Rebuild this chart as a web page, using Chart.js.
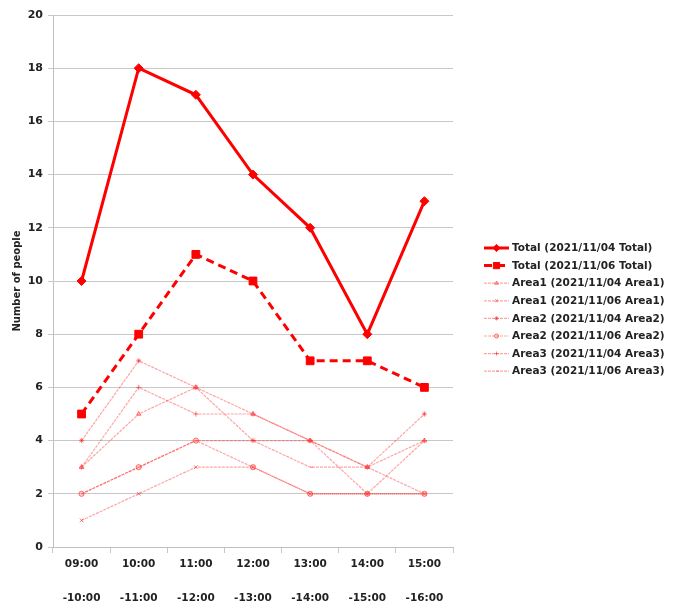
<!DOCTYPE html>
<html>
<head>
<meta charset="utf-8">
<script src="https://cdn.jsdelivr.net/npm/chart.js@4/dist/chart.umd.min.js"></script>
<style>
  html, body { margin: 0; padding: 0; background: #ffffff; }
  #wrap { width: 678px; height: 606px; position: relative; }
</style>
</head>
<body>
<div id="wrap"><canvas id="chart"></canvas></div>
<script>
// Time slots (two-line labels: start / end)
var slotStart = ['09:00', '10:00', '11:00', '12:00', '13:00', '14:00', '15:00'];
var slotEnd   = ['-10:00', '-11:00', '-12:00', '-13:00', '-14:00', '-15:00', '-16:00'];

// Number of people per slot
var total04 = [10, 18, 17, 14, 12, 8, 13];
var total06 = [5, 8, 11, 10, 7, 7, 6];
var area1_04 = [3, 5, 6, 5, 4, 3, 4];
var area1_06 = [1, 2, 3, 3, 2, 2, 2];
var area2_04 = [4, 7, 6, 4, 4, 3, 5];
var area2_06 = [2, 3, 4, 3, 2, 2, 2];
var area3_04 = [3, 6, 5, 5, 4, 2, 4];
var area3_06 = [2, 3, 4, 4, 3, 3, 2];

var yTicks = [0, 2, 4, 6, 8, 10, 12, 14, 16, 18, 20];

var RED = '#ff0000';
var PALE_LINE = 'rgba(255, 40, 40, 0.42)';
var PALE_POINT = 'rgba(255, 40, 40, 0.6)';
var FONT = '"DejaVu Sans", Verdana, sans-serif';

function areaSet(label, data, style) {
    return {
        label: label,
        data: data,
        borderColor: PALE_LINE,
        backgroundColor: 'rgba(255, 120, 120, 0.35)',
        borderWidth: 1.2,
        borderDash: [3, 1],
        pointStyle: style,
        pointRadius: 2.6,
        pointBorderWidth: 1,
        pointBorderColor: PALE_POINT,
        pointBackgroundColor: 'rgba(255, 120, 120, 0.35)',
        tension: 0,
    };
}

var datasets = [
    {
        label: 'Total (2021/11/04 Total)',
        data: total04,
        borderColor: RED,
        backgroundColor: RED,
        borderWidth: 3,
        pointStyle: 'rectRot',
        pointRadius: 4.5,
        pointBorderWidth: 1,
        pointBorderColor: RED,
        pointBackgroundColor: RED,
        tension: 0,
    },
    {
        label: 'Total (2021/11/06 Total)',
        data: total06,
        borderColor: RED,
        backgroundColor: RED,
        borderWidth: 3,
        borderDash: [8, 5],
        pointStyle: 'rect',
        pointRadius: 5.5,
        pointBorderWidth: 1,
        pointBorderColor: RED,
        pointBackgroundColor: RED,
        tension: 0,
    },
    areaSet('Area1 (2021/11/04 Area1)', area1_04, 'triangle'),
    areaSet('Area1 (2021/11/06 Area1)', area1_06, 'crossRot'),
    areaSet('Area2 (2021/11/04 Area2)', area2_04, 'star'),
    areaSet('Area2 (2021/11/06 Area2)', area2_06, 'circle'),
    areaSet('Area3 (2021/11/04 Area3)', area3_04, 'cross'),
    areaSet('Area3 (2021/11/06 Area3)', area3_06, 'dash'),
];

// Legend drawn by hand: line sample + marker + label, to the right of the plot
var sideLegend = {
    id: 'sideLegend',
    afterDraw: function(chart) {
        var ctx = chart.ctx;
        var area = chart.chartArea;
        var x0 = area.right + 31;
        var x1 = x0 + 25;
        var yTop = 248;
        var step = 17.6;
        ctx.save();
        chart.data.datasets.forEach(function(ds, i) {
            var y = yTop + i * step;
            ctx.strokeStyle = ds.borderColor;
            ctx.lineWidth = ds.borderWidth;
            ctx.setLineDash(ds.borderDash || []);
            ctx.beginPath();
            ctx.moveTo(x0, y);
            ctx.lineTo(x1, y);
            ctx.stroke();
            ctx.setLineDash([]);
            ctx.fillStyle = ds.pointBackgroundColor;
            ctx.strokeStyle = ds.pointBorderColor;
            ctx.lineWidth = ds.pointBorderWidth;
            Chart.helpers.drawPoint(ctx, {
                pointStyle: ds.pointStyle,
                radius: ds.pointRadius * 0.8,
                rotation: 0,
                borderWidth: ds.pointBorderWidth,
            }, (x0 + x1) / 2, y);
            ctx.fillStyle = '#222222';
            ctx.font = 'bold 10.5px ' + FONT;
            ctx.textAlign = 'left';
            ctx.textBaseline = 'middle';
            ctx.fillText(ds.label, x1 + 3, y + 0.5);
        });
        ctx.restore();
    }
};

new Chart(document.getElementById('chart'), {
    type: 'line',
    data: {
        labels: slotStart.map(function(s, i) { return [s, slotEnd[i]]; }),
        datasets: datasets,
    },
    options: {
        responsive: true,
        maintainAspectRatio: false,
        animation: false,
        layout: { padding: { top: 15, right: 225, bottom: 0, left: 0 } },
        plugins: {
            legend: { display: false },
            tooltip: { enabled: false },
        },
        scales: {
            x: {
                offset: true,
                afterFit: function(s) { s.height = 59; },
                grid: {
                    display: true,
                    drawOnChartArea: false,
                    drawTicks: true,
                    tickLength: 6,
                    color: '#c8c8c8',
                    offset: true,
                },
                border: { color: '#c0c0c0', width: 1 },
                ticks: {
                    color: '#222222',
                    padding: -6,
                    maxRotation: 0,
                    autoSkip: false,
                    font: { family: FONT, size: 10.5, weight: 'bold', lineHeight: '34px' },
                },
            },
            y: {
                min: 0,
                max: 20,
                afterFit: function(s) { s.width = 53; },
                afterBuildTicks: function(s) {
                    s.ticks = yTicks.map(function(v) { return { value: v }; });
                },
                grid: {
                    color: '#c8c8c8',
                    lineWidth: 1,
                    drawTicks: true,
                    tickLength: 5,
                },
                border: { color: '#c0c0c0', width: 1 },
                ticks: {
                    color: '#222222',
                    padding: 5,
                    font: { family: FONT, size: 11, weight: 'bold' },
                },
                title: {
                    display: true,
                    text: 'Number of people',
                    color: '#222222',
                    padding: { top: 11, bottom: 0 },
                    font: { family: FONT, size: 10, weight: 'bold' },
                },
            },
        },
    },
    plugins: [sideLegend],
});
</script>
</body>
</html>
